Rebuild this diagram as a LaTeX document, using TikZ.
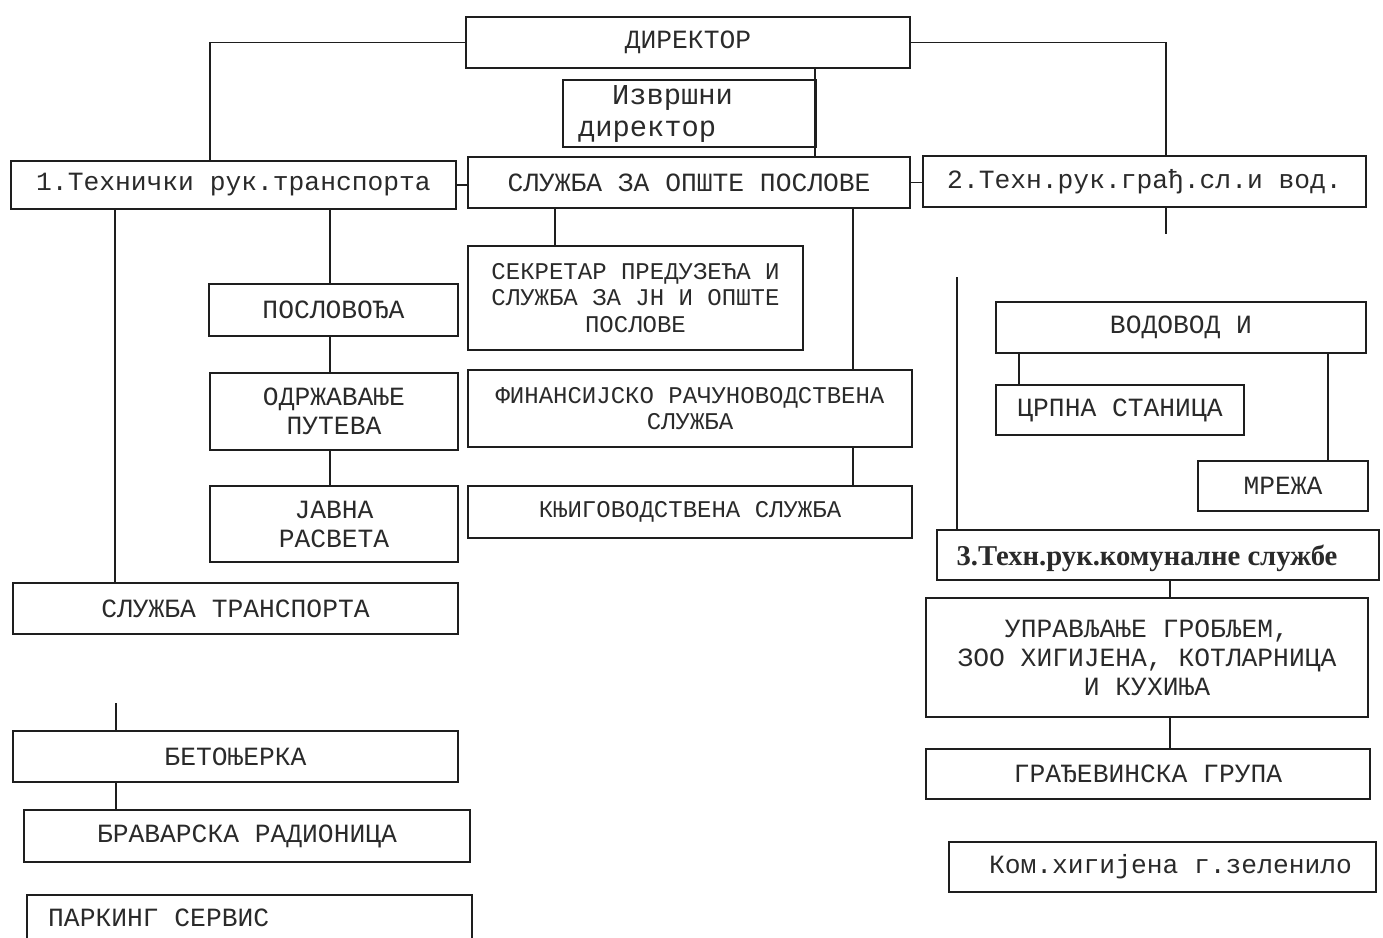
\documentclass[tikz,border=0pt]{standalone}
\usepackage{fontspec}
\newfontfamily\mono{Liberation Mono}
\newfontfamily\serifb{Liberation Serif}
\tikzset{
  box/.style={draw=ink, line width=1.7pt, rectangle, inner sep=0pt, text=txtc, align=center,
    font=\mono\fontsize{26.3}{29}\selectfont},
  smallbox/.style={box, font=\mono\fontsize{24}{26.5}\selectfont},
  txt/.style={inner sep=0pt, text=txtc},
  conn/.style={draw=ink, line width=1.7pt}
}
\definecolor{ink}{HTML}{1E1E1E}
\definecolor{txtc}{HTML}{2A2A2A}
\begin{document}
\begin{tikzpicture}[x=1pt,y=-1pt]
\useasboundingbox (0,0) rectangle (1383,937);
\clip (0,0) rectangle (1383,937);
\fill[white] (0,0) rectangle (1383,937);
% top
\node[box, minimum width=444pt, minimum height=51pt] (dir) at (688,42.5) {ДИРЕКТОР};
\node[box, minimum width=253pt, minimum height=67pt] (izv) at (689.5,113.5) {};
\node[txt, align=left, font=\mono\fontsize{28.8}{32}\selectfont] (izvt) at (655.5,114) {\hspace*{34pt}Извршни\\директор};
\node[box, minimum width=445pt, minimum height=48pt] (t1) at (233.5,185) {1.Технички рук.транспорта};
\node[box, minimum width=442pt, minimum height=51pt] (szo) at (689,182.5) {СЛУЖБА ЗА ОПШТЕ ПОСЛОВЕ};
\node[box, minimum width=443pt, minimum height=51pt] (t2) at (1144.5,181.5) {2.Техн.рук.грађ.сл.и вод.};
% left column
\node[box, minimum width=249pt, minimum height=52pt] (pos) at (333.5,310) {ПОСЛОВОЂА};
\node[box, minimum width=248pt, minimum height=77pt] (odr) at (334,411.5) {ОДРЖАВАЊЕ\\ПУТЕВА};
\node[box, minimum width=248pt, minimum height=76pt] (jav) at (334,524) {ЈАВНА\\РАСВЕТА};
\node[box, minimum width=445pt, minimum height=51pt] (st) at (235.5,608.5) {СЛУЖБА ТРАНСПОРТА};
\node[box, minimum width=445pt, minimum height=51pt] (bet) at (235.5,756.5) {БЕТОЊЕРКА};
\node[box, minimum width=446pt, minimum height=52pt] (bra) at (247,836) {БРАВАРСКА РАДИОНИЦА};
\node[box, minimum width=445pt, minimum height=65pt] (park) at (249.5,927.5) {};
\node[txt, anchor=west, font=\mono\fontsize{26.3}{29}\selectfont] (parkt) at (48,918) {ПАРКИНГ СЕРВИС};
% middle column
\node[smallbox, minimum width=335pt, minimum height=104pt] (sek) at (635.5,298) {СЕКРЕТАР ПРЕДУЗЕЋА И\\СЛУЖБА ЗА ЈН И ОПШТЕ\\ПОСЛОВЕ};
\node[smallbox, minimum width=444pt, minimum height=77pt] (fin) at (690,408.5) {ФИНАНСИЈСКО РАЧУНОВОДСТВЕНА\\СЛУЖБА};
\node[smallbox, minimum width=444pt, minimum height=52pt] (knj) at (690,512) {КЊИГОВОДСТВЕНА СЛУЖБА};
% right column
\node[box, minimum width=370pt, minimum height=51pt] (vod) at (1181,327.5) {ВОДОВОД И};
\node[box, minimum width=248pt, minimum height=50pt] (crp) at (1120,410) {ЦРПНА СТАНИЦА};
\node[box, minimum width=170pt, minimum height=50pt] (mre) at (1283,486) {МРЕЖА};
\node[box, minimum width=442pt, minimum height=50pt] (k3) at (1158,555) {};
\node[txt, font=\serifb\bfseries\fontsize{28.7}{31}\selectfont] (k3t) at (1147,558) {3.Техн.рук.комуналне службе};
\node[box, minimum width=442pt, minimum height=119pt] (upr) at (1147,657.5) {УПРАВЉАЊЕ ГРОБЉЕМ,\\ЗОО ХИГИЈЕНА, КОТЛАРНИЦА\\И КУХИЊА};
\node[box, minimum width=444pt, minimum height=50pt] (gra) at (1148,774) {ГРАЂЕВИНСКА ГРУПА};
\node[box, minimum width=427pt, minimum height=50pt] (kom) at (1162.5,867) {\hspace*{16pt}Ком.хигијена г.зеленило};
% connectors
\draw[conn] (dir.west) -| ([xshift=-23.5pt]t1.north);
\draw[conn] (dir.east) -| ([xshift=21.5pt]t2.north);
\draw[conn] ([xshift=127pt]dir.south) coordinate (dd) -- (dd |- szo.north);
\draw[conn] (t1.east) -- (t1.east -| szo.west);
\draw[conn] (szo.east) -- (szo.east -| t2.west);
\draw[conn] ([xshift=-120.5pt]st.north) coordinate (sa) -- (sa |- t1.south);
\draw[conn] ([xshift=-3.5pt]pos.north) coordinate (pa) -- (pa |- t1.south);
\draw[conn] ([xshift=-4pt]odr.north) coordinate (oa) -- (oa |- pos.south);
\draw[conn] ([xshift=-4pt]jav.north) coordinate (ja) -- (ja |- odr.south);
\draw[conn] ([xshift=-80.5pt]sek.north) coordinate (ka) -- (ka |- szo.south);
\draw[conn] ([xshift=163pt]fin.north) coordinate (fa) -- (fa |- szo.south);
\draw[conn] ([xshift=163pt]knj.north) coordinate (na) -- (na |- fin.south);
\draw[conn] ([xshift=21.5pt]t2.south) coordinate (ta) -- ++(0,26) coordinate (tb);
\coordinate (vt) at (957,277);
\draw[conn] (vt) -- (vt |- k3.north);
\draw[conn] ([xshift=-101pt]crp.north) coordinate (ca) -- (ca |- vod.south);
\draw[conn] ([xshift=45pt]mre.north) coordinate (ma) -- (ma |- vod.south);
\draw[conn] ([xshift=23pt]upr.north) coordinate (ua) -- (ua |- k3.south);
\draw[conn] ([xshift=22pt]gra.north) coordinate (ga) -- (ga |- upr.south);
\coordinate (bt) at (116,703);
\draw[conn] (bt) -- (bt |- bet.north);
\draw[conn] (bt |- bet.south) -- (bt |- bra.north);
\end{tikzpicture}
\end{document}
